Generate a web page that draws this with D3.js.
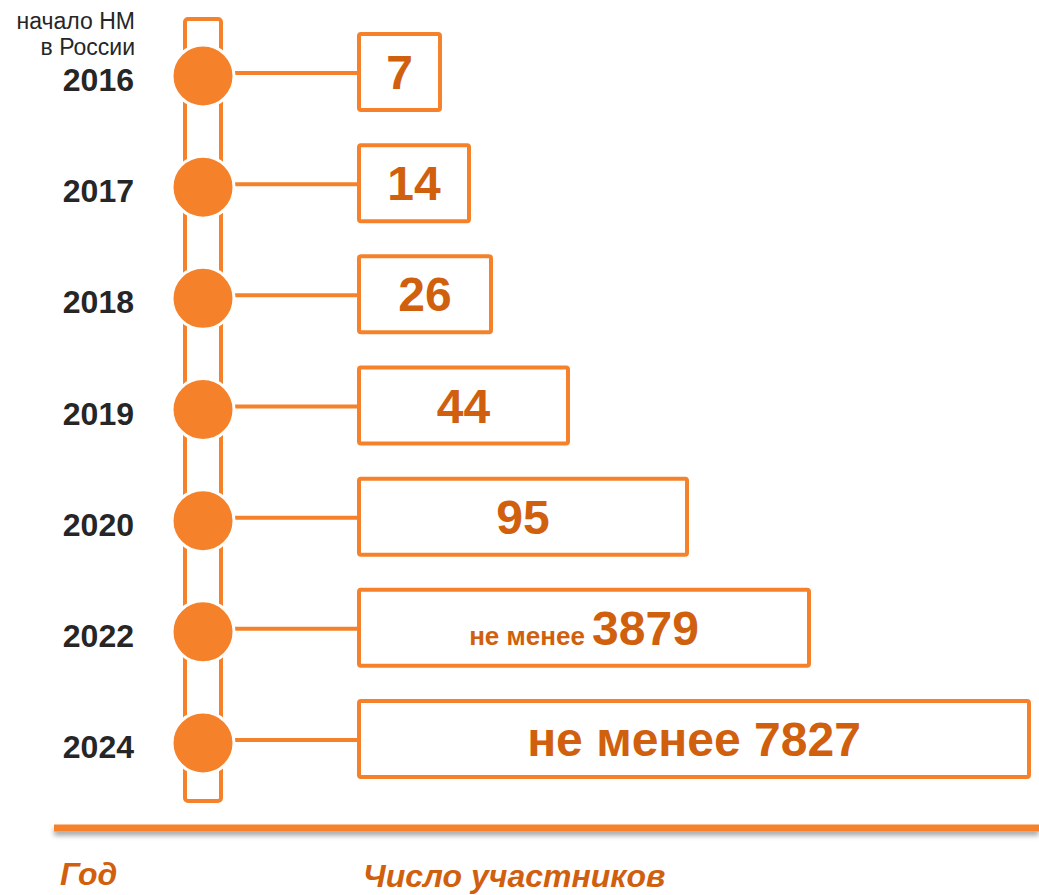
<!DOCTYPE html>
<html>
<head>
<meta charset="utf-8">
<script src="https://cdn.jsdelivr.net/npm/d3@7"></script>
<style>
    body { margin: 0; background: #fff; }
    svg { display: block; font-family: "Liberation Sans", Arial, sans-serif; }
</style>
</head>
<body>
<div id="chart-container"></div>
<script>
// chart data
const years = ["2016", "2017", "2018", "2019", "2020", "2022", "2024"];
const participants = [7, 14, 26, 44, 95, 3879, 7827];
const prefixes = ["", "", "", "", "", "не менее", "не менее"];
const startNote = ["начало НМ", "в России"];
const axisTitles = ["Год", "Число участников"];

document.addEventListener("DOMContentLoaded", function() {
    const width = 1039;
    const height = 895;

    const orange = "#f5822a";
    const textOrange = "#d0600e";

    const data = years.map((y, i) => ({ year: y, value: participants[i], prefix: prefixes[i], i: i }));

    const y = d3.scalePoint()
        .domain(years)
        .range([76, 743]);

    // right edge of each box (box widths in the original are hand laid out)
    const boxRight = d3.scaleOrdinal()
        .domain(years)
        .range([440, 469, 491, 568, 687, 809, 1029]);

    const railX = 203;
    const boxLeft = 359;
    const boxH = 76;

    const svg = d3.select("#chart-container").append("svg")
        .attr("width", width)
        .attr("height", height)
        .attr("viewBox", `0 0 ${width} ${height}`);

    const defs = svg.append("defs");
    defs.append("filter")
        .attr("id", "shadow")
        .attr("filterUnits", "userSpaceOnUse")
        .attr("x", 0).attr("y", 800)
        .attr("width", width).attr("height", 60)
        .append("feDropShadow")
        .attr("dx", 0).attr("dy", 4)
        .attr("stdDeviation", 2.5)
        .attr("flood-color", "#000")
        .attr("flood-opacity", 0.35);

    // vertical rail
    svg.append("rect")
        .attr("x", railX - 18)
        .attr("y", 19)
        .attr("width", 36)
        .attr("height", 782)
        .attr("rx", 3)
        .attr("fill", "none")
        .attr("stroke", orange)
        .attr("stroke-width", 4);

    // connectors
    svg.append("g")
        .selectAll("line")
        .data(data)
        .join("line")
        .attr("x1", railX)
        .attr("x2", boxLeft)
        .attr("y1", d => y(d.year) - 3)
        .attr("y2", d => y(d.year) - 3)
        .attr("stroke", orange)
        .attr("stroke-width", 4);

    // circles
    svg.append("g")
        .selectAll("circle")
        .data(data)
        .join("circle")
        .attr("cx", railX)
        .attr("cy", d => y(d.year))
        .attr("r", 31)
        .attr("fill", orange)
        .attr("stroke", "#fff")
        .attr("stroke-width", 3);

    // boxes
    svg.append("g")
        .selectAll("rect")
        .data(data)
        .join("rect")
        .attr("x", boxLeft)
        .attr("y", d => y(d.year) - 4 - boxH / 2)
        .attr("width", d => boxRight(d.year) - boxLeft)
        .attr("height", boxH)
        .attr("rx", 2)
        .attr("fill", "#fff")
        .attr("stroke", orange)
        .attr("stroke-width", 4);

    // box labels
    const labels = svg.append("g")
        .selectAll("text")
        .data(data)
        .join("text")
        .attr("x", d => (boxLeft + boxRight(d.year)) / 2)
        .attr("y", d => y(d.year) - 4 + 17)
        .attr("text-anchor", "middle")
        .attr("fill", textOrange)
        .attr("font-weight", "bold")
        .attr("font-size", 48);

    labels.filter(d => d.prefix)
        .append("tspan")
        .attr("font-size", d => d.i === data.length - 1 ? 48 : 26)
        .text(d => d.prefix + " ");

    labels.append("tspan")
        .text(d => d.value);

    // year labels
    svg.append("g")
        .selectAll("text")
        .data(data)
        .join("text")
        .attr("x", 134)
        .attr("y", d => y(d.year) + 15)
        .attr("text-anchor", "end")
        .attr("fill", "#262626")
        .attr("font-weight", "bold")
        .attr("font-size", 32)
        .text(d => d.year);

    // note above 2016
    svg.append("g")
        .selectAll("text")
        .data(startNote)
        .join("text")
        .attr("x", 135)
        .attr("y", (d, i) => 29 + i * 26)
        .attr("text-anchor", "end")
        .attr("fill", "#262626")
        .attr("font-size", 23)
        .text(d => d);

    // baseline with shadow
    svg.append("rect")
        .attr("x", 54)
        .attr("y", 824.5)
        .attr("width", width - 54)
        .attr("height", 7)
        .attr("fill", orange)
        .attr("filter", "url(#shadow)");

    // axis titles
    svg.append("g")
        .selectAll("text")
        .data(axisTitles)
        .join("text")
        .attr("x", (d, i) => i === 0 ? 60 : 363)
        .attr("y", (d, i) => i === 0 ? 885 : 887)
        .attr("fill", textOrange)
        .attr("font-weight", "bold")
        .attr("font-style", "italic")
        .attr("font-size", 32)
        .text(d => d);
});
</script>
</body>
</html>
